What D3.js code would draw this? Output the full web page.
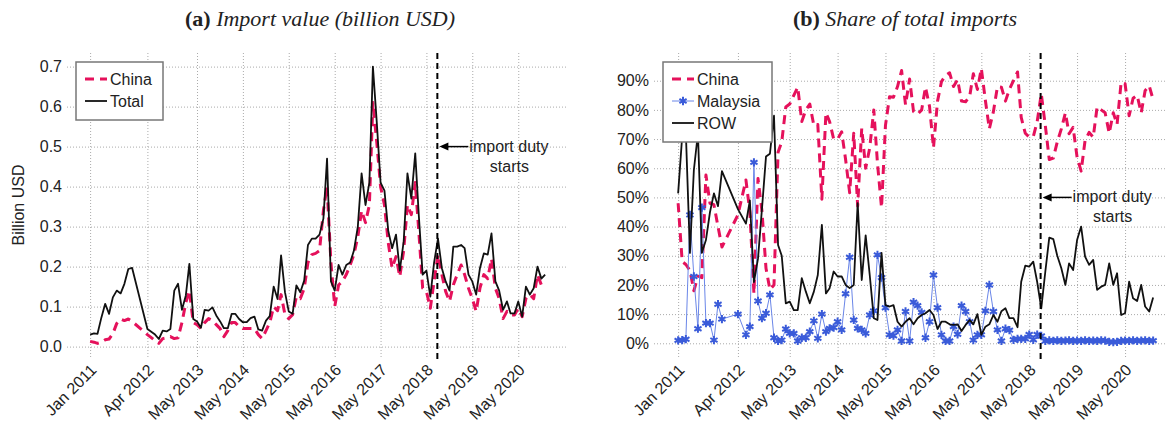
<!DOCTYPE html>
<html>
<head>
<meta charset="utf-8">
<script src="https://cdn.jsdelivr.net/npm/d3@7"></script>
<style>
  body { margin: 0; background: #fff; }
  text { font-family: "Liberation Sans", Arial, sans-serif; fill: #222; }
</style>
</head>
<body>
<svg id="chart" width="1167" height="428"></svg>
<script>
// monthly observations Jan 2011 - Dec 2020, a few months have no data
var firstMonth = "2011-01", lastMonth = "2020-12";
var missingMonths = ["2012-01", "2012-02", "2012-03", "2012-05"];

var tickLabels = ["Jan 2011", "Apr 2012", "May 2013", "May 2014", "May 2015",
                  "May 2016", "May 2017", "May 2018", "May 2019", "May 2020"];
var dutyStart = "2018-07-27";

// (a) import value, billion USD
var totalValue = [
  0.03, 0.033, 0.032, 0.073, 0.107, 0.082, 0.123, 0.14, 0.133, 0.157, 0.194, 0.197,
  0.044, 0.03, 0.019, 0.04, 0.038, 0.044, 0.14, 0.157, 0.092, 0.128, 0.207,
  0.069, 0.063, 0.047, 0.092, 0.09, 0.098, 0.078, 0.063, 0.046, 0.046, 0.082, 0.082, 0.069,
  0.061, 0.061, 0.071, 0.075, 0.043, 0.04, 0.065, 0.076, 0.15, 0.119, 0.228, 0.136,
  0.088, 0.082, 0.153, 0.136, 0.165, 0.254, 0.27, 0.27, 0.28, 0.32, 0.47, 0.163,
  0.14, 0.204, 0.18, 0.204, 0.21, 0.24, 0.30, 0.433, 0.354, 0.41, 0.70, 0.56,
  0.41, 0.39, 0.29, 0.246, 0.28, 0.19, 0.263, 0.433, 0.37, 0.483, 0.33, 0.18,
  0.19, 0.125, 0.21, 0.27, 0.196, 0.163, 0.14, 0.25, 0.25, 0.254, 0.246, 0.18,
  0.163, 0.13, 0.196, 0.233, 0.23, 0.283, 0.163, 0.14, 0.092, 0.113, 0.083, 0.083,
  0.113, 0.075, 0.15, 0.13, 0.146, 0.2, 0.17, 0.18
];
var chinaValue = [
  0.013, 0.011, 0.008, 0.011, 0.017, 0.019, 0.032, 0.058, 0.069, 0.065, 0.069, 0.063,
  0.03, 0.015, 0.008, 0.02, 0.022, 0.025, 0.02, 0.022, 0.06, 0.11, 0.14,
  0.06, 0.055, 0.045, 0.06, 0.07, 0.065, 0.055, 0.045, 0.025, 0.04, 0.06, 0.06, 0.05,
  0.045, 0.045, 0.045, 0.045, 0.03, 0.02, 0.04, 0.06, 0.1, 0.09, 0.13, 0.08,
  0.07, 0.08, 0.125, 0.12, 0.145, 0.21, 0.23, 0.233, 0.24, 0.34, 0.40, 0.21,
  0.10, 0.154, 0.163, 0.18, 0.204, 0.23, 0.275, 0.34, 0.31, 0.354, 0.61, 0.51,
  0.40, 0.354, 0.26, 0.196, 0.225, 0.175, 0.24, 0.354, 0.33, 0.41, 0.29, 0.146,
  0.138, 0.096, 0.163, 0.23, 0.18, 0.138, 0.113, 0.154, 0.18, 0.204, 0.18, 0.146,
  0.12, 0.088, 0.146, 0.18, 0.17, 0.22, 0.146, 0.12, 0.07, 0.088, 0.079, 0.079,
  0.096, 0.075, 0.12, 0.13, 0.12, 0.18, 0.154, 0.15
];

// (b) share of total imports
var chinaShare = [
  0.48, 0.28, 0.27, 0.25, 0.18, 0.23, 0.225, 0.577, 0.48, 0.475, 0.40, 0.33,
  0.44, 0.56, 0.45, 0.17, 0.565, 0.454, 0.257, 0.184, 0.20, 0.655, 0.69,
  0.81, 0.82, 0.85, 0.878, 0.76, 0.80, 0.82, 0.746, 0.75, 0.494, 0.79, 0.76, 0.70,
  0.70, 0.725, 0.63, 0.516, 0.72, 0.47, 0.737, 0.60, 0.67, 0.80, 0.617, 0.465,
  0.747, 0.845, 0.843, 0.88, 0.935, 0.817, 0.906, 0.794, 0.785, 0.80, 0.878, 0.812,
  0.67, 0.83, 0.897, 0.918, 0.927, 0.88, 0.904, 0.83, 0.828, 0.846, 0.924, 0.87,
  0.942, 0.832, 0.735, 0.794, 0.88, 0.878, 0.83, 0.87, 0.90, 0.93, 0.774, 0.72,
  0.707, 0.708, 0.76, 0.855, 0.746, 0.63, 0.635, 0.69, 0.735, 0.79, 0.718, 0.74,
  0.638, 0.59, 0.695, 0.723, 0.706, 0.81, 0.80, 0.79, 0.72, 0.79, 0.75, 0.895,
  0.89, 0.78, 0.84, 0.85, 0.79, 0.866, 0.883, 0.835
];
var malaysiaShare = [
  0.01, 0.011, 0.014, 0.44, 0.229, 0.05, 0.465, 0.069, 0.069, 0.011, 0.134, 0.083,
  0.10, 0.029, 0.057, 0.62, 0.145, 0.086, 0.103, 0.166, 0.019, 0.008, 0.011,
  0.049, 0.034, 0.034, 0.008, 0.019, 0.019, 0.04, 0.077, 0.017, 0.10, 0.04, 0.051, 0.054,
  0.074, 0.046, 0.17, 0.295, 0.08, 0.051, 0.046, 0.034, 0.097, 0.111, 0.303, 0.225,
  0.122, 0.029, 0.026, 0.046, 0.008, 0.109, 0.008, 0.141, 0.129, 0.106, 0.019, 0.074,
  0.234, 0.122, 0.029, 0.008, 0.008, 0.057, 0.031, 0.129, 0.109, 0.074, 0.011, 0.029,
  0.029, 0.111, 0.20, 0.109, 0.046, 0.008, 0.05, 0.045, 0.012, 0.015, 0.015, 0.015,
  0.03, 0.012, 0.03, 0.025, 0.008, 0.01, 0.008, 0.01, 0.008, 0.009, 0.01, 0.008,
  0.009, 0.008, 0.01, 0.008, 0.009, 0.008, 0.01, 0.009, 0.005, 0.004, 0.005, 0.008,
  0.009, 0.008, 0.01, 0.008, 0.009, 0.01, 0.008, 0.009
];
var rowShare = [
  0.514, 0.71, 0.72, 0.31, 0.594, 0.72, 0.31, 0.354, 0.45, 0.514, 0.47, 0.59,
  0.46, 0.41, 0.49, 0.21, 0.29, 0.46, 0.64, 0.65, 0.78, 0.337, 0.30,
  0.137, 0.143, 0.114, 0.114, 0.223, 0.177, 0.137, 0.177, 0.234, 0.406, 0.171, 0.189, 0.246,
  0.229, 0.229, 0.20, 0.189, 0.20, 0.48, 0.217, 0.37, 0.234, 0.086, 0.08, 0.31,
  0.131, 0.126, 0.131, 0.074, 0.057, 0.074, 0.086, 0.065, 0.086, 0.097, 0.103, 0.114,
  0.097, 0.049, 0.074, 0.074, 0.065, 0.063, 0.065, 0.042, 0.063, 0.08, 0.065, 0.10,
  0.029, 0.057, 0.065, 0.097, 0.074, 0.11, 0.12, 0.086, 0.086, 0.055, 0.211, 0.266,
  0.263, 0.28, 0.21, 0.12, 0.246, 0.362, 0.357, 0.30, 0.257, 0.20, 0.274, 0.251,
  0.354, 0.40, 0.297, 0.269, 0.286, 0.183, 0.194, 0.20, 0.274, 0.20, 0.24, 0.097,
  0.103, 0.211, 0.154, 0.145, 0.20, 0.126, 0.109, 0.157
];

var yTicksValue = [0, 0.1, 0.2, 0.3, 0.4, 0.5, 0.6, 0.7];
var yTicksShare = [0, 0.1, 0.2, 0.3, 0.4, 0.5, 0.6, 0.7, 0.8, 0.9];

var red = "#e5115b", blue = "#3a5bd9";

var parseMonth = d3.utcParse("%Y-%m"),
    parseTick = d3.utcParse("%b %Y"),
    parseDay = d3.utcParse("%Y-%m-%d");

var skip = missingMonths.map(function(s) { return +parseMonth(s); });
var months = d3.utcMonth.range(parseMonth(firstMonth), d3.utcMonth.offset(parseMonth(lastMonth), 1))
    .filter(function(d) { return skip.indexOf(+d) < 0; });
var tickDates = tickLabels.map(function(s) { return parseTick(s); });

var plotTop = 53, plotBottom = 357;
var xDomain = [parseDay("2010-07-01"), parseDay("2021-06-01")];

var svg = d3.select("#chart");
svg.append("rect").attr("width", 1167).attr("height", 428).attr("fill", "#fff");

function series(vals) {
  return vals.map(function(v, i) { return {date: months[i], v: v}; });
}

function panel(p) {
  var x = d3.scaleUtc().domain(xDomain).range(p.xr);
  var y = d3.scaleLinear().domain(p.yd).range([plotBottom, plotTop]);
  var g = svg.append("g");

  var yAxis = d3.axisLeft(y)
      .tickValues(p.yticks)
      .tickFormat(p.fmt)
      .tickSize(-(p.xr[1] - p.xr[0]))
      .tickPadding(5);
  var ya = g.append("g")
      .attr("transform", "translate(" + p.xr[0] + ",0)")
      .call(yAxis);

  var xAxis = d3.axisBottom(x)
      .tickValues(tickDates)
      .tickFormat(function(d, i) { return tickLabels[i]; })
      .tickSize(-(plotBottom - plotTop))
      .tickPadding(0);
  var xa = g.append("g")
      .attr("transform", "translate(0," + plotBottom + ")")
      .call(xAxis);
  xa.selectAll("text")
      .attr("y", 0)
      .attr("x", 0)
      .attr("dy", 0)
      .attr("transform", "translate(7,14) rotate(-45)")
      .style("text-anchor", "end");

  [ya, xa].forEach(function(a) {
    a.select(".domain").remove();
    a.selectAll("line").attr("stroke", "#aaa").attr("stroke-dasharray", "1,2").attr("stroke-width", 1);
    a.selectAll("text").style("font-size", "16px").style("fill", "#222")
      .style("font-family", "'Liberation Sans', Arial, sans-serif");
  });

  var line = d3.line()
      .x(function(d) { return x(d.date); })
      .y(function(d) { return y(d.v); });

  p.lines.forEach(function(s) {
    var data = series(s.values);
    g.append("path")
        .datum(data)
        .attr("fill", "none")
        .attr("stroke", s.color)
        .attr("stroke-width", s.width)
        .attr("stroke-dasharray", s.dash || null)
        .attr("stroke-linejoin", "round")
        .attr("d", line);
    if (s.marker) {
      g.selectAll(".mk" + s.name)
          .data(data)
          .enter().append("path")
          .attr("transform", function(d) { return "translate(" + x(d.date) + "," + y(d.v) + ")"; })
          .attr("d", d3.symbol(d3.symbolAsterisk, 48))
          .attr("stroke", s.markerColor)
          .attr("stroke-width", 2)
          .attr("fill", "none");
    }
  });

  // tariff line + note
  var xd = x(parseDay(dutyStart));
  g.append("line")
      .attr("x1", xd).attr("x2", xd)
      .attr("y1", plotTop).attr("y2", plotBottom + 2)
      .attr("stroke", "#000").attr("stroke-width", 2)
      .attr("stroke-dasharray", "6,4");
  var ay = y(0.5);
  g.append("line")
      .attr("x1", xd + 9).attr("x2", xd + 31)
      .attr("y1", ay).attr("y2", ay)
      .attr("stroke", "#000").attr("stroke-width", 1.5);
  g.append("path")
      .attr("d", "M" + (xd + 2) + "," + ay + "l9,-4l0,8z")
      .attr("fill", "#000");
  g.append("text")
      .attr("x", xd + 32).attr("y", ay + 5)
      .style("font-size", "16px")
      .text("import duty");
  g.append("text")
      .attr("x", xd + 72).attr("y", ay + 25)
      .style("font-size", "16px")
      .style("text-anchor", "middle")
      .text("starts");

  // legend
  var lg = g.append("g");
  lg.append("rect")
      .attr("x", p.legend.x).attr("y", plotTop + 9)
      .attr("width", p.legend.w).attr("height", p.lines.length * 22 + 14)
      .attr("fill", "#fff").attr("stroke", "#777").attr("stroke-width", 1.5);
  p.lines.forEach(function(s, i) {
    var ly = plotTop + 26 + i * 22;
    lg.append("line")
        .attr("x1", p.legend.x + 9).attr("x2", p.legend.x + 31)
        .attr("y1", ly).attr("y2", ly)
        .attr("stroke", s.color).attr("stroke-width", s.width)
        .attr("stroke-dasharray", s.dash || null);
    if (s.marker) {
      lg.append("path")
          .attr("transform", "translate(" + (p.legend.x + 20) + "," + ly + ")")
          .attr("d", d3.symbol(d3.symbolAsterisk, 48))
          .attr("stroke", s.markerColor).attr("stroke-width", 2).attr("fill", "none");
    }
    lg.append("text")
        .attr("x", p.legend.x + 34).attr("y", ly + 6)
        .style("font-size", "16px")
        .text(s.name);
  });

  // title
  var t = svg.append("text")
      .attr("x", p.titleX)
      .attr("y", 26)
      .style("text-anchor", "middle")
      .style("font-family", "'Liberation Serif', 'DejaVu Serif', serif")
      .style("font-size", "22px");
  t.append("tspan").style("font-weight", "bold").text(p.title[0]);
  t.append("tspan").style("font-style", "italic").text(" " + p.title[1]);
}

panel({
  xr: [67, 568],
  yd: [-0.026, 0.734],
  yticks: yTicksValue,
  fmt: d3.format(".1f"),
  legend: {x: 76, w: 87},
  title: ["(a)", "Import value (billion USD)"],
  titleX: 320,
  lines: [
    {name: "China", values: chinaValue, color: red, width: 3, dash: "9,6"},
    {name: "Total", values: totalValue, color: "#111", width: 1.8}
  ]
});

panel({
  xr: [654, 1177],
  yd: [-0.047, 0.995],
  yticks: yTicksShare,
  fmt: d3.format(".0%"),
  legend: {x: 663, w: 109},
  title: ["(b)", "Share of total imports"],
  titleX: 905,
  lines: [
    {name: "China", values: chinaShare, color: red, width: 3, dash: "9,6"},
    {name: "Malaysia", values: malaysiaShare, color: "#6a86e8", width: 1, marker: true, markerColor: blue},
    {name: "ROW", values: rowShare, color: "#111", width: 1.8}
  ]
});

svg.append("text")
    .attr("transform", "translate(24,205) rotate(-90)")
    .style("text-anchor", "middle")
    .style("font-size", "16px")
    .text("Billion USD");
</script>
</body>
</html>
